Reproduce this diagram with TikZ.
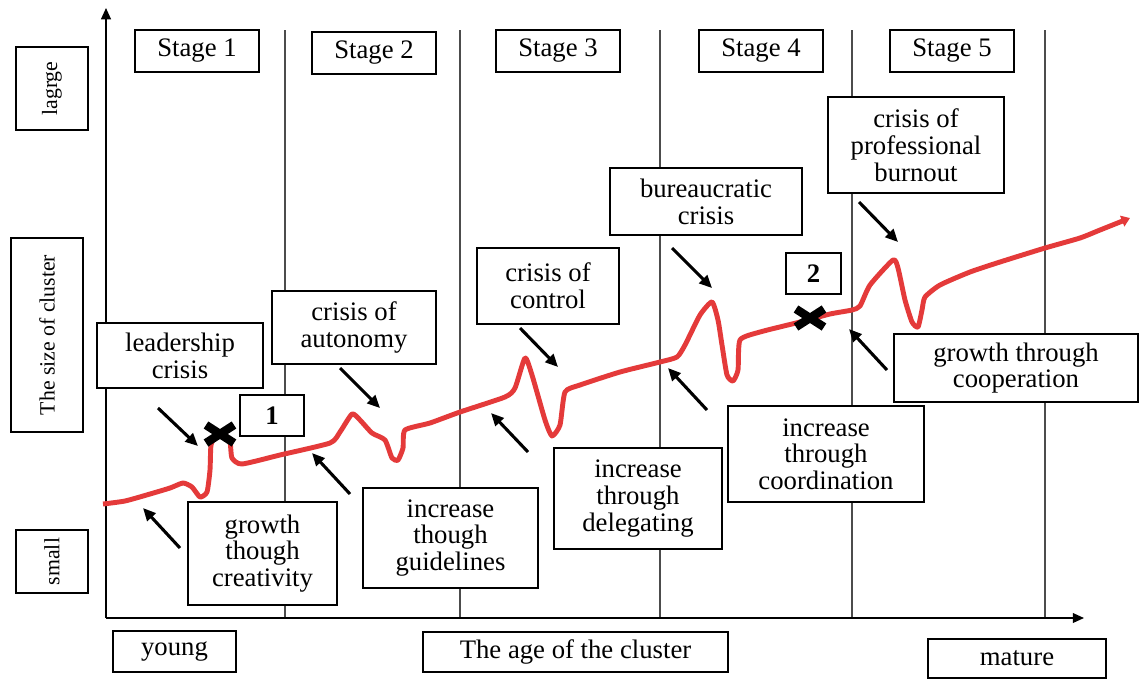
\documentclass[tikz,border=0pt]{standalone}
\usepackage{fontspec}
\setmainfont{Liberation Serif}
\usetikzlibrary{arrows.meta}
\definecolor{curvered}{RGB}{228,58,58}

\tikzset{
  lbl/.style={draw, fill=white, line width=0.9pt, align=center, inner sep=0pt,
    font=\fontsize{19}{19}\selectfont},
  sidelbl/.style={lbl, rotate=90, minimum height=1.8cm, font=\fontsize{15.5}{16}\selectfont},
  pointer/.style={line width=2.2pt, -{Triangle[length=9pt,width=8pt]}},
  stageline/.style={draw=black!70, line width=1pt},
  cross/.style={line width=6pt}
}

\begin{document}
\begin{tikzpicture}[x=0.025cm, y=-0.025cm]
			\useasboundingbox (0,0) rectangle (1139,680);
			% stage borders
			\foreach \sx in {285,460,660,852,1045}
				\draw[stageline] (\sx,30) -- (\sx,618);
			% axes
			\coordinate (origin) at (106,618);
			\coordinate (ytip) at (106,8);
			\coordinate (xtip) at (1084,618);
			\draw[line width=1pt,-{Triangle[length=8pt,width=7pt]}] (origin) -- (ytip);
			\draw[line width=1pt,-{Triangle[length=8pt,width=7pt]}] (origin) -- (xtip);
			% stages
			\node[lbl, minimum width=3.1cm, minimum height=1.05cm] (stage1) at (197,51) {Stage 1};
			\node[lbl, minimum width=3.1cm, minimum height=1.05cm] (stage2) at (374,53) {Stage 2};
			\node[lbl, minimum width=3.1cm, minimum height=1.05cm] (stage3) at (558,51) {Stage 3};
			\node[lbl, minimum width=3.1cm, minimum height=1.05cm] (stage4) at (761,51) {Stage 4};
			\node[lbl, minimum width=3.1cm, minimum height=1.05cm] (stage5) at (952,51) {Stage 5};
			% axis labels
			\node[sidelbl, minimum width=2.075cm] (large) at (52,88.5) {lagrge};
			\node[sidelbl, minimum width=4.85cm] (size) at (47,335) {The size of cluster};
			\node[sidelbl, minimum width=1.575cm] (small) at (52,561.5) {small};
			\node[lbl, minimum width=3.075cm, minimum height=1.025cm] (young) at (174.5,651.5) {young};
			\node[lbl, minimum width=7.625cm, minimum height=1cm] (age) at (575.5,652) {The age of the cluster};
			\node[lbl, minimum width=4.45cm, minimum height=0.975cm] (mature) at (1017,658.5) {mature};
			% growth curve
			\draw[curvered, line width=3.5pt, line join=round, -{Triangle[length=6pt,width=8pt]}]
				plot[smooth, tension=0.35] coordinates {
				(103,504) (125,501) (150,494) (170,488) (183,483) (192,487) (200,497) (207,492)
				(210,470) (211,445) (216,436) (224,434) (230,442) (232,458) (242,464) (280,455)
				(330,443) (340,432) (352,414) (360,420) (372,433) (385,440) (392,458) (398,460)
				(403,448) (405,430) (430,423) (460,412) (505,397) (515,388) (525,358) (532,375)
				(545,420) (552,436) (560,425) (565,392) (580,385) (620,372) (660,362) (677,357)
				(685,345) (700,315) (712,302) (718,320) (722,345) (727,375) (733,381) (738,370)
				(740,340) (760,332) (800,322) (830,314) (852,310) (860,306) (870,285) (893,260)
				(898,268) (905,300) (912,322) (918,327) (922,310) (925,297) (940,285) (970,272)
				(1000,262) (1045,248) (1080,238) (1100,230) (1130,218)};
			% crises
			\node[lbl, minimum width=4.15cm, minimum height=1.625cm] (lead) at (180,355.5) {leadership\\crisis};
			\node[lbl, minimum width=4.1cm, minimum height=1.825cm] (auton) at (354,327.5) {crisis of\\autonomy};
			\node[lbl, minimum width=3.55cm, minimum height=1.9cm] (control) at (548,286) {crisis of\\control};
			\node[lbl, minimum width=4.8cm, minimum height=1.675cm] (bureau) at (706,201.5) {bureaucratic\\crisis};
			\node[lbl, minimum width=4.4cm, minimum height=2.4cm] (burn) at (916,145) {crisis of\\professional\\burnout};
			% growth phases
			\node[lbl, minimum width=3.725cm, minimum height=2.575cm] (creat) at (262.5,553.5) {growth\\though\\creativity};
			\node[lbl, minimum width=4.375cm, minimum height=2.5cm] (guide) at (450.5,538) {increase\\though\\guidelines};
			\node[lbl, minimum width=4.2cm, minimum height=2.525cm] (deleg) at (638,498.5) {increase\\through\\delegating};
			\node[lbl, minimum width=4.9cm, minimum height=2.4cm] (coord) at (826,454) {increase\\through\\coordination};
			\node[lbl, minimum width=6.1cm, minimum height=1.7cm] (coop) at (1016,368) {growth through\\cooperation};
			% markers
			\node[lbl, minimum width=1.6cm, minimum height=1.025cm, font=\fontsize{19}{19}\selectfont\bfseries] (one) at (272,415.5) {1};
			\node[lbl, minimum width=1.375cm, minimum height=1.025cm, font=\fontsize{19}{19}\selectfont\bfseries] (two) at (813.5,273.5) {2};
			\draw[cross] (206,425) -- (234,443) (206,443) -- (234,425);
			\draw[cross] (796,309) -- (824,327) (796,327) -- (824,309);
			% pointers
			\coordinate (lead-from) at (158,408);   \coordinate (lead-to) at (198,446);
			\coordinate (creat-from) at (180,548);  \coordinate (creat-to) at (143,508);
			\coordinate (auton-from) at (340,368);  \coordinate (auton-to) at (380,408);
			\coordinate (guide-from) at (350,494);  \coordinate (guide-to) at (312,453);
			\coordinate (control-from) at (520,328); \coordinate (control-to) at (558,367);
			\coordinate (deleg-from) at (528,452);  \coordinate (deleg-to) at (491,413);
			\coordinate (coord-from) at (707,410);  \coordinate (coord-to) at (668,368);
			\coordinate (bureau-from) at (672,248); \coordinate (bureau-to) at (712,288);
			\coordinate (burn-from) at (859,202);   \coordinate (burn-to) at (898,242);
			\coordinate (coop-from) at (887,370);   \coordinate (coop-to) at (849,329);
			\foreach \p in {lead,creat,auton,guide,control,deleg,coord,bureau,burn,coop}
				\draw[pointer] (\p-from) -- (\p-to);
		\end{tikzpicture}
\end{document}
